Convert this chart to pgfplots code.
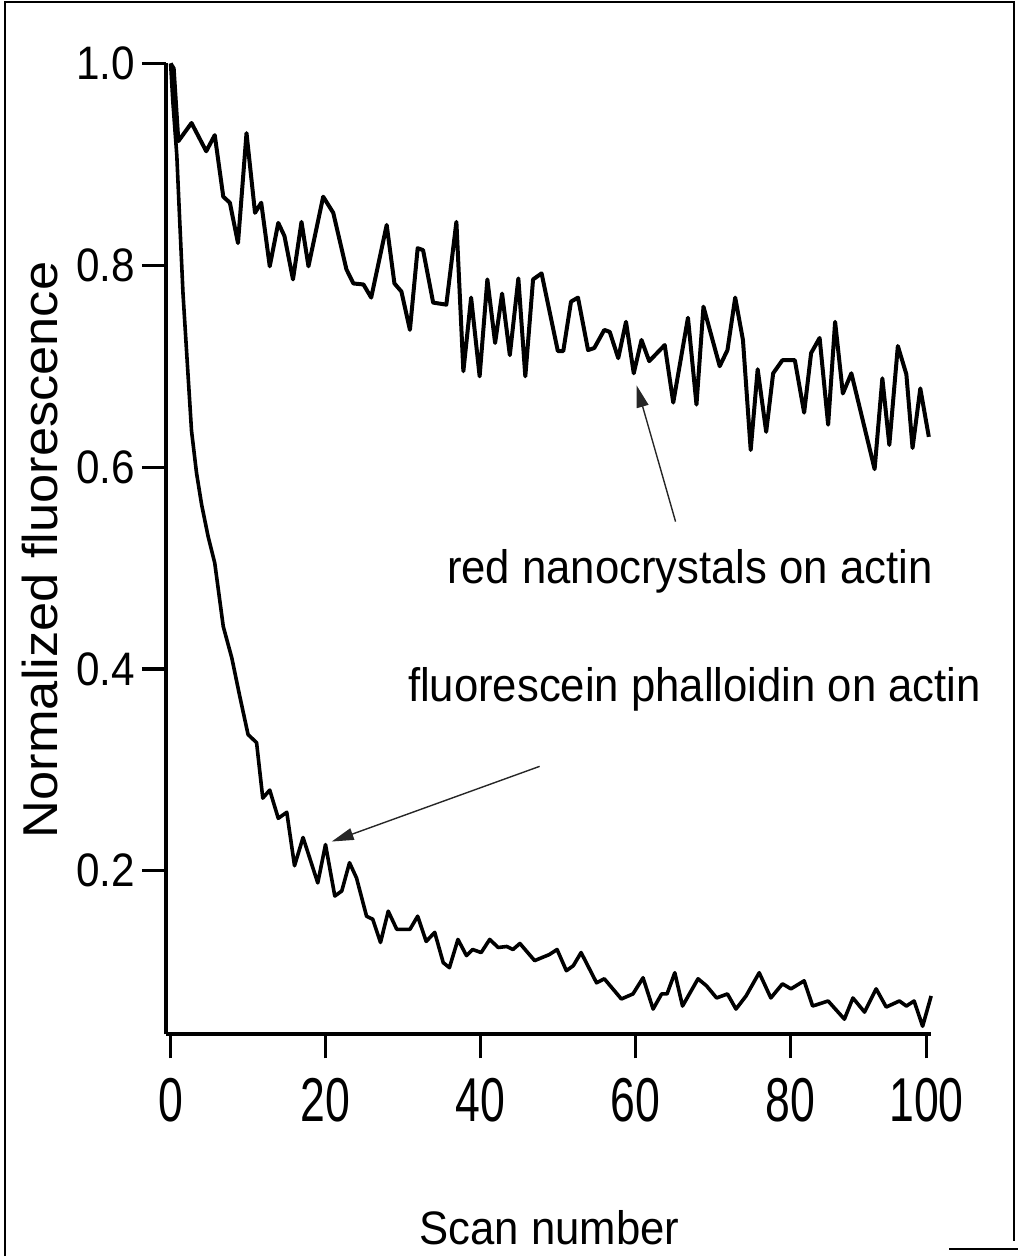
\documentclass[border=0pt]{standalone}
\usepackage{fontspec}
\setmainfont{Liberation Sans}[FakeStretch=0.9]
\newfontfamily\ylabfont{Liberation Sans}[FakeStretch=1.07]
\newfontfamily\annfont{Liberation Sans}[FakeStretch=0.93]
\newfontfamily\xtickfont{Liberation Sans}[FakeStretch=0.72]
\usepackage{pgfplots}
\pgfplotsset{compat=1.18}
\usetikzlibrary{arrows.meta}

\begin{document}
\begin{tikzpicture}
\begin{axis}[
  scale only axis, width=382.85pt, height=485.75pt,
  xmin=-0.6, xmax=98.2, ymin=0.038, ymax=1.0,
  axis x line*=bottom, axis y line*=left,
  axis line style={line width=2.2pt},
  tick align=outside, major tick length=12pt,
  tick style={line width=1.6pt, black},
  xtick={0,20,40,60,80,97.6}, xticklabels={0,20,40,60,80,100},
  ytick={0.2,0.4,0.6,0.8,1.0}, yticklabels={0.2,0.4,0.6,0.8,1.0},
  y tick label style={font=\fontsize{23.5}{28}\selectfont},
  x tick label style={font=\xtickfont\fontsize{31}{34}\selectfont, inner sep=0pt, yshift=-10pt},
  /pgf/number format/assume math mode=true,
  clip=false,
]
% red nanocrystals on actin
\addplot[black, line width=2pt, line join=round] coordinates {
(0,1.0) (0.4,0.995) (1,0.923) (2.7,0.941) (4.6,0.913) (5.7,0.929) (6.8,0.868) (7.65,0.862) (8.7,0.822) (9.8,0.931) (10.9,0.852) (11.7,0.862) (12.8,0.799) (13.9,0.842) (14.7,0.829) (15.8,0.786) (16.9,0.843) (17.8,0.799) (19.7,0.868) (21.0,0.852) (22.7,0.796) (23.6,0.782) (24.9,0.781) (25.9,0.768) (27.9,0.840) (28.9,0.782) (29.8,0.774) (30.9,0.736) (31.9,0.817) (32.6,0.815) (33.9,0.763) (35.6,0.761) (36.9,0.843) (37.8,0.695) (38.8,0.768) (39.9,0.690) (40.9,0.786) (41.9,0.723) (42.8,0.772) (43.8,0.711) (44.9,0.787) (45.8,0.690) (46.8,0.786) (47.9,0.792) (50.0,0.715) (50.7,0.715) (51.7,0.764) (52.6,0.768) (53.9,0.716) (54.7,0.718) (56.0,0.736) (56.7,0.734) (57.8,0.708) (58.8,0.744) (59.8,0.693) (60.8,0.726) (61.8,0.705) (63.8,0.721) (64.9,0.664) (66.8,0.748) (67.9,0.662) (68.8,0.759) (70.9,0.700) (71.9,0.716) (72.9,0.768) (73.9,0.726) (74.9,0.617) (75.8,0.697) (76.9,0.635) (77.8,0.693) (79.0,0.706) (80.6,0.706) (81.8,0.654) (82.7,0.713) (83.8,0.728) (84.9,0.642) (85.8,0.744) (86.8,0.673) (87.9,0.693) (90.9,0.598) (91.9,0.688) (92.8,0.622) (93.9,0.720) (95.0,0.692) (95.8,0.619) (96.8,0.678) (97.9,0.630)
};
% fluorescein phalloidin on actin
\addplot[black, line width=1.8pt, line join=round] coordinates {
(0,1.0) (0.3,0.961) (0.8,0.909) (1.2,0.840) (1.6,0.772) (2.1,0.710) (2.7,0.636) (3.35,0.594) (4.0,0.563) (4.85,0.531) (5.7,0.505) (6.8,0.442) (7.9,0.411) (8.9,0.374) (10.0,0.335) (11.1,0.327) (11.9,0.272) (12.8,0.280) (13.9,0.252) (15.0,0.258) (16.0,0.205) (17.1,0.233) (19.0,0.188) (20.0,0.226) (21.2,0.175) (22.1,0.180) (23.1,0.208) (24.0,0.193) (25.3,0.155) (26.1,0.152) (27.1,0.129) (28.1,0.160) (29.2,0.142) (30.9,0.142) (31.9,0.155) (33.0,0.130) (34.1,0.139) (35.2,0.109) (36.0,0.104) (37.1,0.132) (38.2,0.116) (39.0,0.122) (40.1,0.119) (41.2,0.132) (42.3,0.124) (43.4,0.125) (44.2,0.122) (45.1,0.128) (47.0,0.111) (48.9,0.117) (49.9,0.122) (51.1,0.101) (52.0,0.106) (53.0,0.119) (55.0,0.089) (56.0,0.093) (58.2,0.073) (59.7,0.078) (61.0,0.094) (62.3,0.063) (63.4,0.078) (64.1,0.078) (65.1,0.099) (66.1,0.066) (68.1,0.093) (69.2,0.086) (70.5,0.074) (71.9,0.078) (73.0,0.063) (74.3,0.076) (76.0,0.099) (77.5,0.074) (79.0,0.088) (80.1,0.083) (81.8,0.091) (82.9,0.066) (84.9,0.071) (87.0,0.053) (88.1,0.074) (89.6,0.060) (91.1,0.083) (92.4,0.065) (94.1,0.071) (95.0,0.066) (96.0,0.071) (97.1,0.046) (98.2,0.076)
};
% annotations
\node[anchor=base west, inner sep=0pt, font=\annfont\fontsize{23.5}{28}\selectfont] at (axis cs:35.65,0.4847) {red nanocrystals on actin};
\node[anchor=base west, inner sep=0pt, font=\annfont\fontsize{23.5}{28}\selectfont] at (axis cs:30.6,0.368) {fluorescein phalloidin on actin};
\draw[black!85, line width=0.7pt, -{Triangle[length=11pt,width=6pt]}] (axis cs:65.2,0.546) -- (axis cs:60.17,0.681);
\draw[black!85, line width=0.7pt, -{Triangle[length=11pt,width=6pt]}] (axis cs:47.65,0.3035) -- (axis cs:20.8,0.229);
% axis titles
\node[anchor=base, inner sep=0pt, font=\annfont\fontsize{23.5}{28}\selectfont] at (axis cs:48.9,-0.170) {Scan number};
\node[rotate=90, inner sep=0pt, font=\ylabfont\fontsize{24.5}{28}\selectfont] at (axis cs:-16.9,0.518) {Normalized fluorescence};
% frame of the figure
\draw[line width=1pt] (axis cs:-21.38,-0.1817) -- (axis cs:-21.38,1.0609) -- (axis cs:108.94,1.0609) -- (axis cs:108.94,-0.1668);
\draw[line width=1pt] (axis cs:100.55,-0.1748) -- (axis cs:109.46,-0.1748);
\path (axis cs:-22.03,-0.1817) rectangle (axis cs:109.46,1.0629);
\end{axis}
\end{tikzpicture}
\end{document}
